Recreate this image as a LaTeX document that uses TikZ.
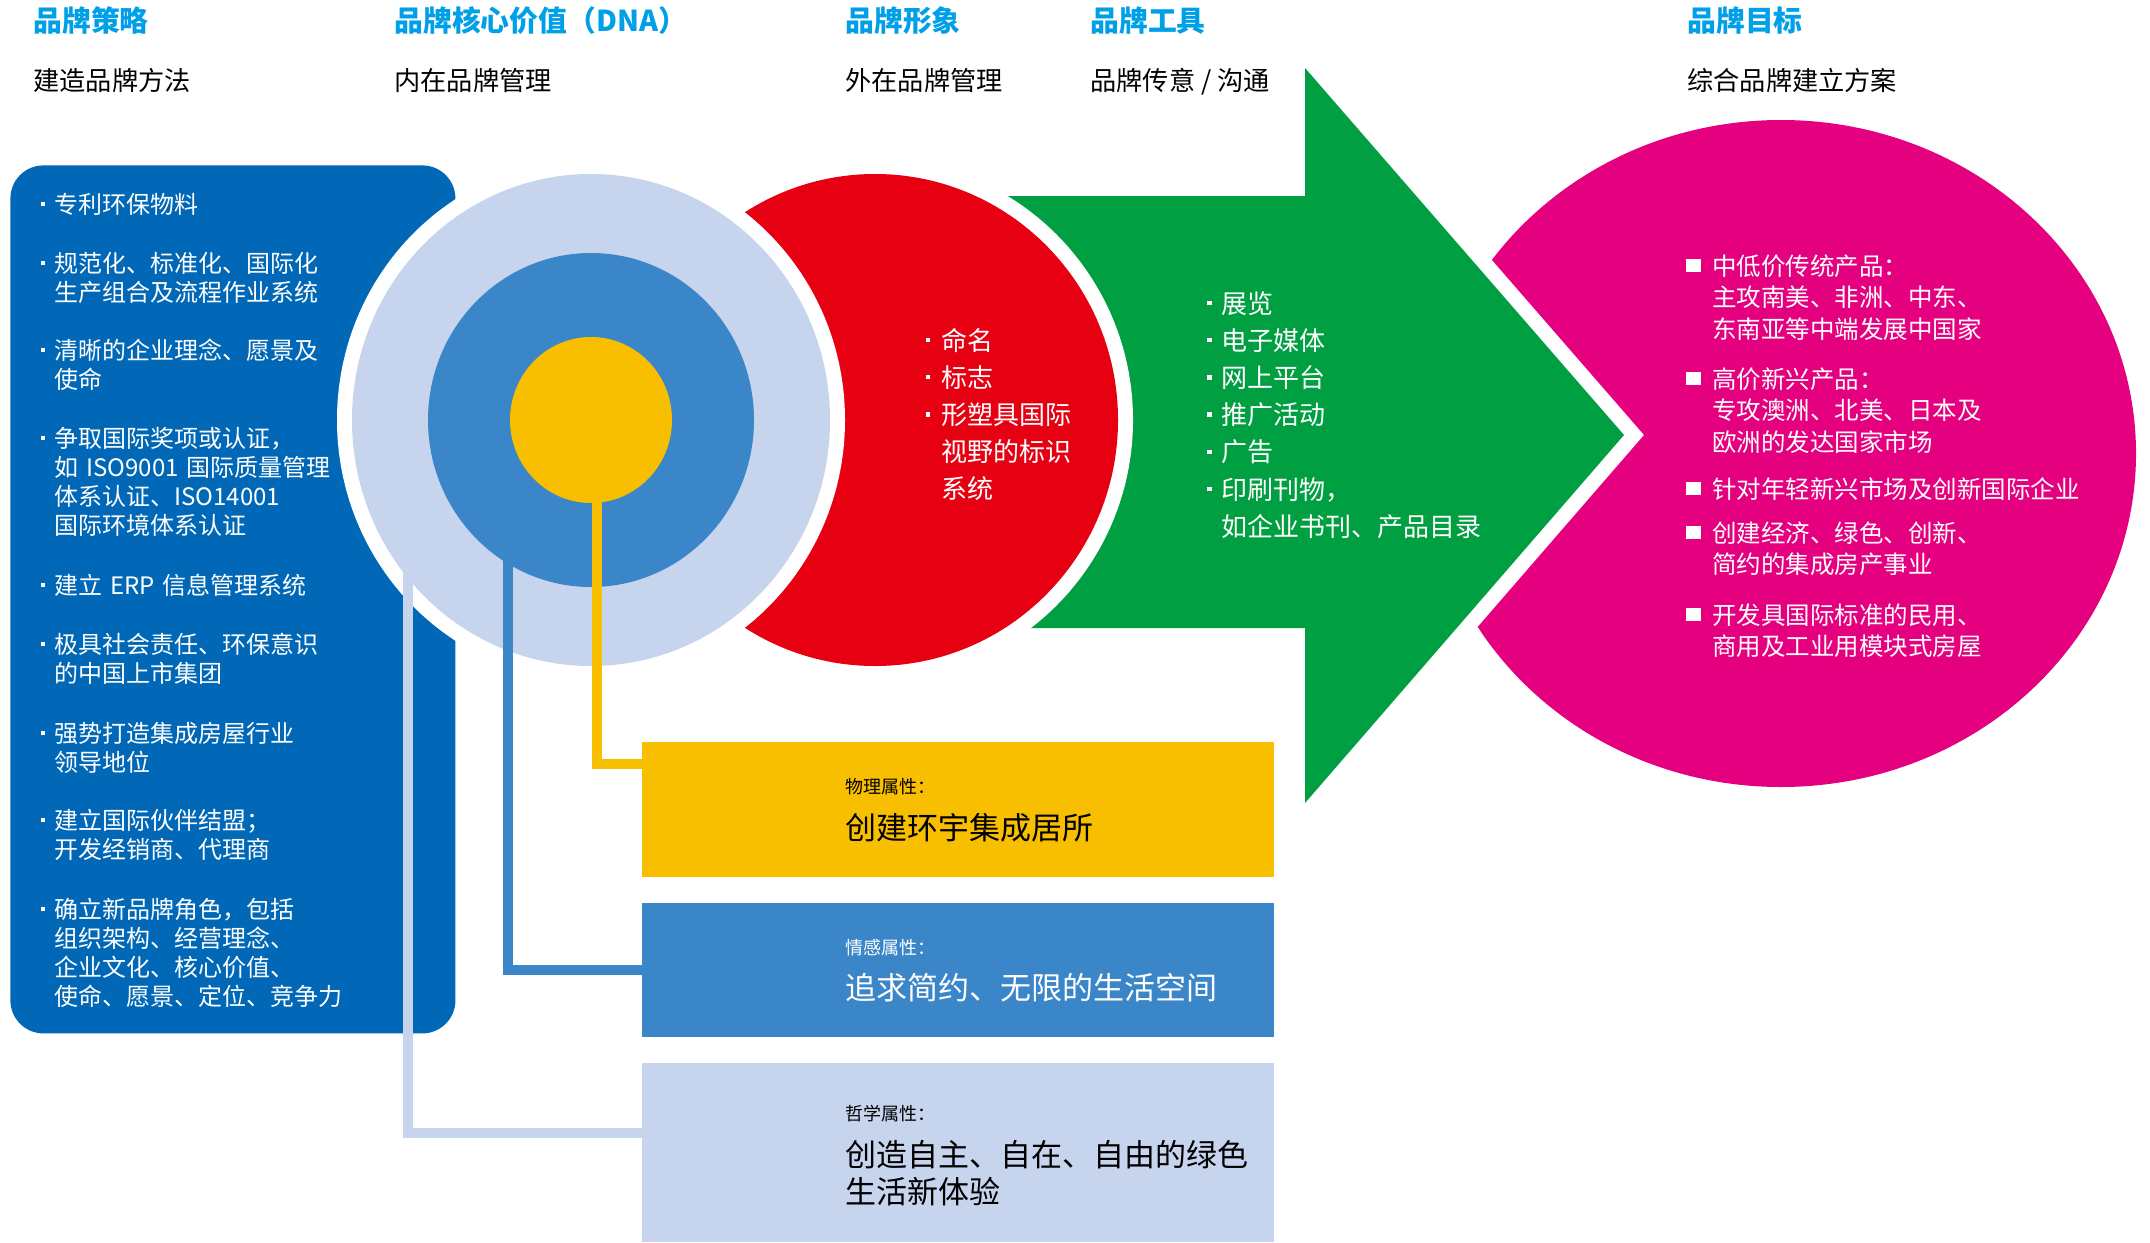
\documentclass[tikz,border=0pt]{standalone}
\usepackage{fontspec}
\setmainfont{Noto Sans CJK SC}
\usetikzlibrary{shapes.geometric,calc}
\definecolor{hdrblue}{RGB}{0,160,233}
\definecolor{boxblue}{RGB}{0,104,183}
\definecolor{ringlight}{RGB}{198,212,237}
\definecolor{ringmid}{RGB}{58,134,200}
\definecolor{gold}{RGB}{248,190,0}
\definecolor{bred}{RGB}{230,0,18}
\definecolor{bgreen}{RGB}{0,159,65}
\definecolor{bpink}{RGB}{228,0,127}
\newcommand{\dotb}[1]{\leavevmode\llap{\rule[0.3em]{0.17em}{0.17em}\hspace{#1}}}
\newcommand{\sqb}{\leavevmode\llap{\rule[0.12em]{0.64em}{0.54em}\hspace{0.45em}}}
\begin{document}
\begin{tikzpicture}[x=0.5pt,y=-0.5pt,
  hdr/.style={anchor=base west, inner sep=0, text=hdrblue, font=\fontsize{14.4}{17}\selectfont\bfseries},
  sub/.style={anchor=base west, inner sep=0, text=black, font=\fontsize{13.1}{16}\selectfont},
  txt/.style={anchor=base west, inner sep=0, align=left, text width=320pt},
  ltxt/.style={txt, text=white, font=\fontsize{12}{14.5}\selectfont},
  rtxt/.style={txt, text=white, font=\fontsize{13}{18.6}\selectfont},
  ptxt/.style={txt, text=white, font=\fontsize{12.25}{15.85}\selectfont},
  lab/.style={anchor=base west, inner sep=0, font=\fontsize{9}{11}\selectfont},
  big/.style={txt, font=\fontsize{15.5}{18.5}\selectfont},
  attr/.style={rectangle, inner sep=0, anchor=north west, minimum width=316pt},
  ring/.style={ellipse, inner sep=0},
  conn/.style={line width=5pt},
]
\useasboundingbox (0,0) rectangle (2150,1242);

% left strategy box
\node[fill=boxblue, rounded corners=16.5pt, anchor=north west, inner sep=0,
      minimum width=222.5pt, minimum height=434pt] (strat) at (10,165) {};

% pink goal ellipse
\node[ring, fill=bpink, minimum width=355pt, minimum height=333.5pt] (goal) at (1781,453.5) {};

% green arrow with white outline
\path[fill=white, draw=white, line width=15pt]
  (870,196) -- (1305,196) -- (1305,68) -- (1624,435) -- (1305,803) -- (1305,628) -- (870,628) -- cycle;
\fill[bgreen]
  (870,196) -- (1305,196) -- (1305,68) -- (1624,435) -- (1305,803) -- (1305,628) -- (870,628) -- cycle;

% red image circle
\fill[white] (875,420) ellipse [x radius=129pt, y radius=130.5pt];
\node[ring, fill=bred, minimum width=243pt, minimum height=246pt] (image) at (875,420) {};

% DNA rings
\fill[white] (591,420) ellipse [x radius=127pt, y radius=130.5pt];
\node[ring, fill=ringlight, minimum width=239pt, minimum height=246pt] (dna) at (591,420) {};
\node[ring, fill=ringmid, minimum width=163pt, minimum height=167pt] (mid) at (591,420) {};
\node[ring, fill=gold, minimum width=81pt, minimum height=83pt] (core) at (591,420) {};

% attribute boxes
\node[attr, fill=gold, minimum height=67.5pt] (phys) at (642,742) {};
\node[attr, fill=ringmid, minimum height=67pt] (emo) at (642,903) {};
\node[attr, fill=ringlight, minimum height=89.5pt] (phil) at (642,1063) {};

% connectors
\draw[conn, gold] ([yshift=3pt]core.-86) |- ([yshift=-11pt]phys.north west);
\draw[conn, ringmid] ([yshift=4pt]mid.-120) |- ([yshift=-33.5pt]emo.north west);
\draw[conn, ringlight] ([yshift=4pt]dna.-139) |- ([yshift=-35pt]phil.north west);

% headers
\node[hdr] (h1) at (33,32) {品牌策略};
\node[hdr] (h2) at (394,32) {品牌核心价值（DNA）};
\node[hdr] (h3) at (845,32) {品牌形象};
\node[hdr] (h4) at (1090,32) {品牌工具};
\node[hdr] (h5) at (1687,32) {品牌目标};
\node[sub] (s1) at (33,90.5) {建造品牌方法};
\node[sub] (s2) at (394,90.5) {内在品牌管理};
\node[sub] (s3) at (845,90.5) {外在品牌管理};
\node[sub] (s4) at (1090,90.5) {品牌传意 / 沟通};
\node[sub] (s5) at (1687,90.5) {综合品牌建立方案};

% left box items
\node[ltxt] (l1) at (54,213) {\dotb{0.4em}专利环保物料};
\node[ltxt] (l2) at (54,272) {\dotb{0.4em}规范化、标准化、国际化\\生产组合及流程作业系统};
\node[ltxt] (l3) at (54,359) {\dotb{0.4em}清晰的企业理念、愿景及\\使命};
\node[ltxt] (l4) at (54,447) {\dotb{0.4em}争取国际奖项或认证，\\如 ISO9001 国际质量管理\\体系认证、ISO14001\\国际环境体系认证};
\node[ltxt] (l5) at (54,594) {\dotb{0.4em}建立 ERP 信息管理系统};
\node[ltxt] (l6) at (54,653) {\dotb{0.4em}极具社会责任、环保意识\\的中国上市集团};
\node[ltxt] (l7) at (54,742) {\dotb{0.4em}强势打造集成房屋行业\\领导地位};
\node[ltxt] (l8) at (54,829) {\dotb{0.4em}建立国际伙伴结盟；\\开发经销商、代理商};
\node[ltxt] (l9) at (54,918) {\dotb{0.4em}确立新品牌角色，包括\\组织架构、经营理念、\\企业文化、核心价值、\\使命、愿景、定位、竞争力};

% red items
\node[rtxt] (r1) at (941,350) {\dotb{0.42em}命名\\\dotb{0.42em}标志\\\dotb{0.42em}形塑具国际\\视野的标识\\系统};

% green items
\node[rtxt] (g1) at (1221,313) {\dotb{0.38em}展览\\\dotb{0.38em}电子媒体\\\dotb{0.38em}网上平台\\\dotb{0.38em}推广活动\\\dotb{0.38em}广告\\\dotb{0.38em}印刷刊物，\\如企业书刊、产品目录};

% pink items
\node[ptxt] (p1) at (1712,275) {\sqb 中低价传统产品：\\主攻南美、非洲、中东、\\东南亚等中端发展中国家};
\node[ptxt] (p2) at (1712,388) {\sqb 高价新兴产品：\\专攻澳洲、北美、日本及\\欧洲的发达国家市场};
\node[ptxt] (p3) at (1712,498) {\sqb 针对年轻新兴市场及创新国际企业};
\node[ptxt] (p4) at (1712,542) {\sqb 创建经济、绿色、创新、\\简约的集成房产事业};
\node[ptxt] (p5) at (1712,624) {\sqb 开发具国际标准的民用、\\商用及工业用模块式房屋};

% attribute texts
\node[lab, text=black] (physl) at (845,793) {物理属性：};
\node[big, text=black] (physt) at (845,839) {创建环宇集成居所};
\node[lab, text=white] (emol) at (845,954) {情感属性：};
\node[big, text=white] (emot) at (845,999) {追求简约、无限的生活空间};
\node[lab, text=black] (phill) at (845,1120) {哲学属性：};
\node[big, text=black] (philt) at (845,1166) {创造自主、自在、自由的绿色\\生活新体验};
\end{tikzpicture}
\end{document}
